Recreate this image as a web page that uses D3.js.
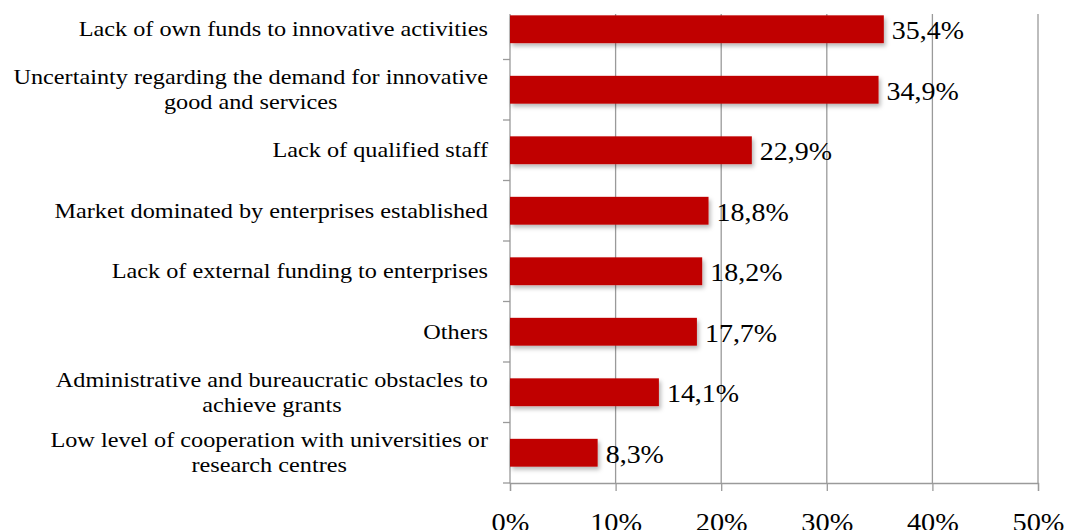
<!DOCTYPE html>
<html>
<head>
<meta charset="utf-8">
<script src="https://cdn.jsdelivr.net/npm/d3@7/dist/d3.min.js"></script>
<style>
  html, body { margin: 0; padding: 0; background: #fff; }
  svg { display: block; }
  text { font-family: "Liberation Serif", "Times New Roman", serif; fill: #000; }
</style>
</head>
<body>
<svg id="chart" width="1066" height="530"></svg>
<script>
// Barriers to innovation, share of enterprises (%)
const categories = [
  "Lack of own funds to innovative activities",
  "Uncertainty regarding the demand for innovative\ngood and services",
  "Lack of qualified staff",
  "Market dominated by enterprises established",
  "Lack of external funding to enterprises",
  "Others",
  "Administrative and bureaucratic obstacles to\nachieve grants",
  "Low level of cooperation with universities or\nresearch centres"
];
const values = [35.4, 34.9, 22.9, 18.8, 18.2, 17.7, 14.1, 8.3];
const xTicks = [0, 10, 20, 30, 40, 50];

const svg = d3.select("#chart");
const plotLeft = 510, plotRight = 1038, plotTop = -1, plotBottom = 483;
const gridTop = 14;
const gridColor = "#9a9a9a";

const x = d3.scaleLinear().domain([0, 50]).range([plotLeft, plotRight]);
const pad = 0.54;
const y = d3.scaleBand().domain(categories).range([plotTop, plotBottom])
  .paddingInner(pad).paddingOuter(pad / 2);

const fmt = v => v.toFixed(1).replace(".", ",") + "%";

// soft drop shadow under the bars
const defs = svg.append("defs");
const f = defs.append("filter").attr("id", "shadow")
  .attr("x", "-10%").attr("y", "-30%").attr("width", "130%").attr("height", "180%");
f.append("feDropShadow").attr("dx", 2).attr("dy", 3).attr("stdDeviation", 2)
  .attr("flood-color", "#000").attr("flood-opacity", 0.28);

// vertical gridlines
svg.append("g").selectAll("line").data(xTicks.slice(1)).join("line")
  .attr("x1", d => x(d)).attr("x2", d => x(d))
  .attr("y1", gridTop).attr("y2", plotBottom)
  .attr("stroke", gridColor).attr("stroke-width", 1.3);

// bottom axis
const xAxis = d3.axisBottom(x).tickValues(xTicks).tickSize(8).tickPadding(22)
  .tickFormat(d => d + "%");
const gx = svg.append("g").attr("transform", `translate(0,${plotBottom})`).call(xAxis);
gx.select(".domain").attr("stroke", gridColor).attr("stroke-width", 1.3);
gx.selectAll(".tick line").attr("stroke", gridColor).attr("stroke-width", 1.3);
gx.selectAll(".tick text")
  .attr("font-size", 26).attr("font-family", "Liberation Serif").attr("fill", "#000")
  .attr("transform", "scale(1.09,1)");

// left axis line with tick marks at band boundaries
const step = y.step();
svg.append("line").attr("x1", plotLeft).attr("x2", plotLeft).attr("y1", gridTop).attr("y2", plotBottom)
  .attr("stroke", gridColor).attr("stroke-width", 1.3);
const bounds = categories.map(c => y(c) + y.bandwidth() / 2 + step / 2);
svg.append("g").selectAll("line").data(bounds).join("line")
  .attr("x1", plotLeft - 7).attr("x2", plotLeft).attr("y1", d => d).attr("y2", d => d)
  .attr("stroke", gridColor).attr("stroke-width", 1.3);

// bars
svg.append("g").selectAll("rect").data(values).join("rect")
  .attr("x", x(0))
  .attr("y", (d, i) => y(categories[i]))
  .attr("width", d => x(d) - x(0))
  .attr("height", y.bandwidth())
  .attr("fill", "#C00000")
  .attr("filter", "url(#shadow)");

// value labels
svg.append("g").selectAll("text").data(values).join("text")
  .attr("transform", (d, i) =>
    `translate(${x(d) + 8},${y(categories[i]) + y.bandwidth() / 2 + 10}) scale(1.076,1)`)
  .attr("font-size", 26)
  .text(d => fmt(d));

// category labels (multi-line labels centered as a block, right-aligned to the axis)
const labelRight = 488;
const lineH = 25;
const gl = svg.append("g")
  .attr("transform", `translate(${labelRight},0) scale(1.155,1) translate(${-labelRight},0)`);
categories.forEach((c, i) => {
  const lines = c.split("\n");
  const cy = y(c) + y.bandwidth() / 2;
  const t = gl.append("text").attr("font-size", 21).attr("text-anchor", "end");
  const y0 = cy + 7 - (lines.length - 1) * lineH / 2;
  lines.forEach((ln, k) => {
    t.append("tspan").attr("x", labelRight).attr("y", y0 + k * lineH).text(ln);
  });
  if (lines.length > 1) {
    // center the shorter lines under the widest one
    const spans = t.selectAll("tspan").nodes();
    const widths = spans.map(s => s.getComputedTextLength());
    const w = d3.max(widths);
    spans.forEach((s, k) => {
      d3.select(s).attr("x", labelRight - (w - widths[k]) / 2);
    });
  }
});
</script>
</body>
</html>
